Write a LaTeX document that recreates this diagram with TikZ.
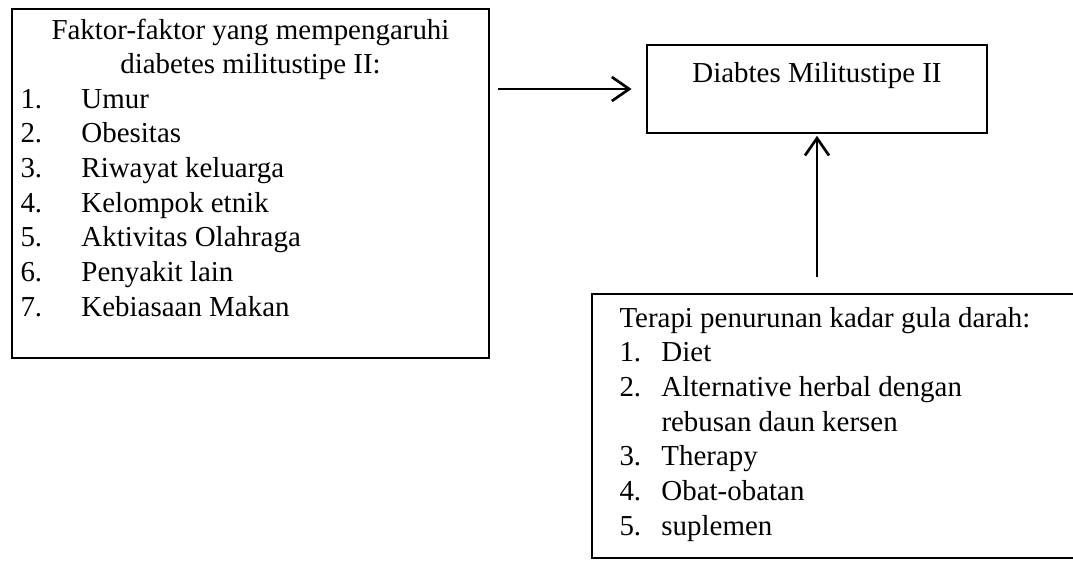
\documentclass[tikz,border=0pt]{standalone}
\usepackage{fontspec}
\setmainfont{Liberation Serif}
\usetikzlibrary{arrows.meta}

\tikzset{every picture/.style={line width=0.75pt}}
\tikzset{
  box/.style={draw, line width=1.2pt, inner sep=0pt},
  flow/.style={line width=2pt, -{Straight Barb[length=13pt,width=18pt]}},
  txt/.style={inner sep=0pt, font=\fontsize{21.7}{26}\selectfont}
}

\begin{document}
\begin{tikzpicture}[x=0.75pt,y=0.75pt,yscale=-1,xscale=1]
\useasboundingbox (0,0) rectangle (1073,562);

%Boxes
\node [box, minimum width=357.75pt, minimum height=261.75pt] (faktor) at (250.5,183.5) {};
\node [box, minimum width=255pt, minimum height=66pt] (diabetes) at (817,89) {};
\node [box, minimum width=367.5pt, minimum height=198pt] (terapi) at (837,426) {};

% Text Node
\node [txt, anchor=base] (faktorhead) at (250.5,39)
  {\begin{tabular}[t]{@{}c@{}}Faktor-faktor yang mempengaruhi\\diabetes militustipe II:\end{tabular}};
% Text Node
\node [txt, anchor=base west] (faktorlist) at (20,108)
  {\begin{tabular}[t]{@{}p{45.75pt}@{}l@{}}
   1. & Umur\\
   2. & Obesitas\\
   3. & Riwayat keluarga\\
   4. & Kelompok etnik\\
   5. & Aktivitas Olahraga\\
   6. & Penyakit lain\\
   7. & Kebiasaan Makan
   \end{tabular}};
% Text Node
\node [txt, anchor=base] (diabeteslabel) at (817,82) {Diabtes Militustipe II};
% Text Node
\node [txt, anchor=base west] (terapilist) at (619,327)
  {\begin{tabular}[t]{@{}p{31.5pt}@{}l@{}}
   \multicolumn{2}{@{}l@{}}{Terapi penurunan kadar gula darah:}\\
   1. & Diet\\
   2. & Alternative herbal dengan\\
      & rebusan daun kersen\\
   3. & Therapy\\
   4. & Obat-obatan\\
   5. & suplemen
   \end{tabular}};

%Arrows
\draw [flow, shorten <=6pt, shorten >=11pt] (faktor.east |- diabetes.west) -- (diabetes.west);
\draw [flow, shorten <=12pt, shorten >=1.5pt] (terapi.north -| diabetes.south) -- (diabetes.south);

\end{tikzpicture}
\end{document}
